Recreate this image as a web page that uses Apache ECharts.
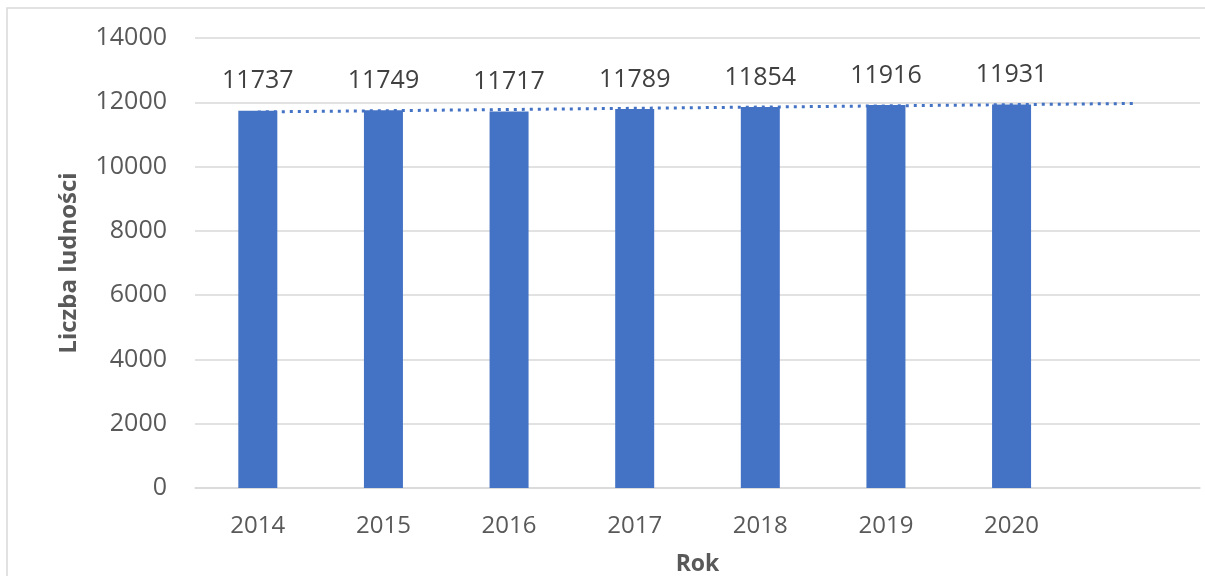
<!DOCTYPE html>
<html><head><meta charset="utf-8">
<script src="https://cdn.jsdelivr.net/npm/echarts@6/dist/echarts.min.js"></script>
<style>html,body{margin:0;padding:0;background:#fff}#c{width:1205px;height:576px}</style>
</head><body><div id="c"></div>
<script>
const categories = ['2014','2015','2016','2017','2018','2019','2020',''];
const population = [11737, 11749, 11717, 11789, 11854, 11916, 11931];
// linear trendline endpoints (first year .. one period forward)
const trendStart = 11700;
const trendEnd = 11964;
const yTicks = [0, 2000, 4000, 6000, 8000, 10000, 12000, 14000];

const trend = categories.map((c, i) => i === 0 ? trendStart : (i === categories.length - 1 ? trendEnd : null));

const chart = echarts.init(document.getElementById('c'));
const font = 'Open Sans';
chart.setOption({
  animation: false,
  textStyle: { fontFamily: font },
  graphic: [{ type: 'rect', shape: { x: 7, y: 8, width: 1220, height: 600 }, style: { fill: 'none', stroke: '#d9d9d9', lineWidth: 1.5 } }],
  grid: { left: 195, right: 5, top: 38, bottom: 88, outerBoundsMode: 'none', containLabel: false },
  xAxis: {
    type: 'category', data: categories,
    axisLine: { lineStyle: { color: '#d9d9d9', width: 1.5 } },
    axisTick: { show: false },
    axisLabel: { color: '#595959', fontSize: 24, margin: 26, fontFamily: font },
    name: 'Rok', nameLocation: 'middle', nameGap: 65,
    nameTextStyle: { color: '#595959', fontSize: 23, fontWeight: 'bold', fontFamily: font }
  },
  yAxis: {
    type: 'value', min: yTicks[0], max: yTicks[yTicks.length - 1], interval: 2000,
    axisLine: { show: false }, axisTick: { show: false },
    splitLine: { lineStyle: { color: '#d9d9d9', width: 1.5 } },
    axisLabel: { color: '#595959', fontSize: 25, margin: 28, fontFamily: font, formatter: v => String(v) },
    name: 'Liczba ludności', nameLocation: 'middle', nameGap: 114,
    nameTextStyle: { color: '#595959', fontSize: 24, fontWeight: 'bold', fontFamily: font }
  },
  series: [
    {
      type: 'bar', data: population, barWidth: 39,
      itemStyle: { color: '#4472C4' },
      label: { show: true, position: 'top', distance: 17, color: '#404040', fontSize: 25, fontFamily: font }
    },
    {
      type: 'line', data: trend, connectNulls: true, symbol: 'none',
      lineStyle: { color: '#4472C4', width: 3, type: [3, 5] }, z: 5
    }
  ]
});
</script></body></html>
